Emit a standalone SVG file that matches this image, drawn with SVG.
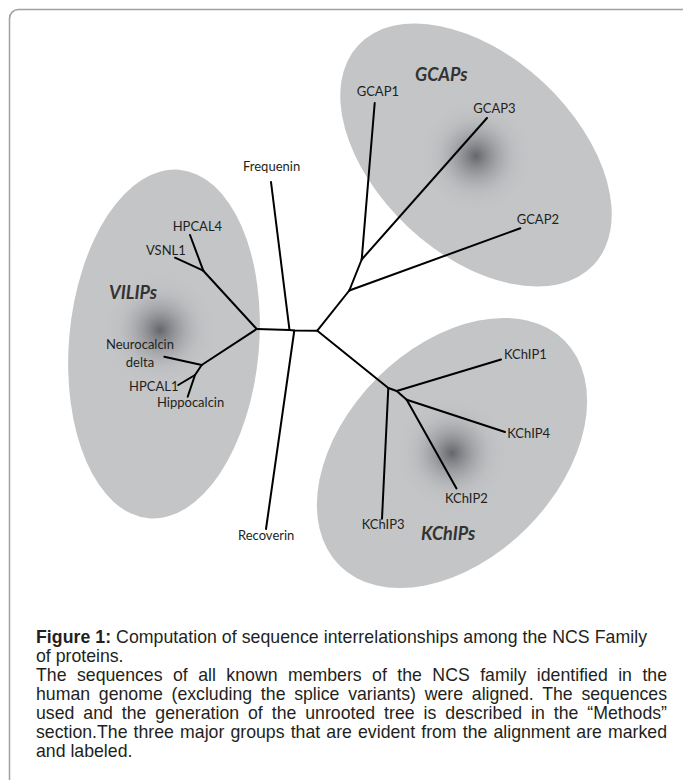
<svg xmlns="http://www.w3.org/2000/svg" width="683" height="780" viewBox="0 0 683 780">
<defs>
<radialGradient id="core" cx="0.5" cy="0.5" r="0.5">
<stop offset="0" stop-color="#65666b" stop-opacity="1"/>
<stop offset="0.3" stop-color="#8a8b8f" stop-opacity="0.7"/>
<stop offset="0.65" stop-color="#b0b1b4" stop-opacity="0.3"/>
<stop offset="1" stop-color="#c4c5c7" stop-opacity="0"/>
</radialGradient>
</defs>
<style>
.blob{fill:#c4c5c7}
.core{fill:url(#core)}
.lbl{font-family:Lato,"Liberation Sans",sans-serif;font-size:13px;fill:#231f20}
.grp{font-family:Lato,"Liberation Sans",sans-serif;font-size:18px;font-weight:bold;font-style:italic;fill:#333}
.edge{fill:none;stroke:#000;stroke-width:2;stroke-linejoin:round;stroke-linecap:round}
.cap{font-family:"Liberation Sans",Arial,sans-serif;font-size:17.7px;fill:#231f20}
</style>
<rect x="9.5" y="9.5" width="700" height="800" rx="9" fill="#fff" stroke="#a0a0a0" stroke-width="1.5"/>

<g id="group-vilips">
<ellipse class="blob" cx="164" cy="344" rx="95" ry="175" transform="rotate(5 164 344)"/>
<circle class="core" cx="160" cy="330" r="60"/>
<text class="grp" x="109" y="299">VILIPs</text>
</g>
<g id="group-gcaps">
<ellipse class="blob" cx="476" cy="155" rx="161" ry="99" transform="rotate(43 476 155)"/>
<circle class="core" cx="476" cy="156" r="60"/>
<text class="grp" x="415" y="81">GCAPs</text>
</g>
<g id="group-kchips">
<ellipse class="blob" cx="452" cy="453" rx="159" ry="106" transform="rotate(-45 452 453)"/>
<circle class="core" cx="452" cy="453" r="60"/>
<text class="grp" x="421" y="540">KChIPs</text>
</g>

<g id="connectors">
<polyline class="edge" points="256.7,329 289.5,330 294.3,330.5 317.3,330.7"/>
<line class="edge" x1="289.5" y1="330" x2="271" y2="182"/>
<line class="edge" x1="294.3" y1="330.5" x2="266" y2="529"/>
<line class="edge" x1="256.7" y1="329" x2="203.3" y2="270.7"/>
<line class="edge" x1="203.3" y1="270.7" x2="175" y2="257.7"/>
<line class="edge" x1="203.3" y1="270.7" x2="190" y2="235"/>
<line class="edge" x1="256.7" y1="329" x2="201.7" y2="365"/>
<line class="edge" x1="201.7" y1="365" x2="164.3" y2="356.7"/>
<line class="edge" x1="201.7" y1="365" x2="195" y2="375"/>
<line class="edge" x1="195" y1="375" x2="178.3" y2="385"/>
<line class="edge" x1="195" y1="375" x2="187.7" y2="396.7"/>
<line class="edge" x1="317.3" y1="330.7" x2="349.3" y2="290.5"/>
<line class="edge" x1="349.3" y1="290.5" x2="361.7" y2="259.5"/>
<line class="edge" x1="361.7" y1="259.5" x2="374.7" y2="103"/>
<line class="edge" x1="361.7" y1="259.5" x2="487" y2="118"/>
<line class="edge" x1="349.3" y1="290.5" x2="520.3" y2="228.3"/>
<line class="edge" x1="317.3" y1="330.7" x2="388.3" y2="388"/>
<line class="edge" x1="388.3" y1="388" x2="382" y2="518.7"/>
<line class="edge" x1="388.3" y1="388" x2="396.7" y2="391"/>
<line class="edge" x1="396.7" y1="391" x2="501" y2="359.5"/>
<line class="edge" x1="396.7" y1="391" x2="406.7" y2="399.7"/>
<line class="edge" x1="406.7" y1="399.7" x2="505" y2="432"/>
<line class="edge" x1="406.7" y1="399.7" x2="456.5" y2="488.5"/>
</g>

<g id="node-frequenin"><text class="lbl" x="243" y="171">Frequenin</text></g>
<g id="node-recoverin"><text class="lbl" x="238" y="540">Recoverin</text></g>
<g id="node-hpcal4"><text class="lbl" x="172.7" y="231">HPCAL4</text></g>
<g id="node-vsnl1"><text class="lbl" x="146" y="255">VSNL1</text></g>
<g id="node-neurocalcin"><text class="lbl" x="140" y="349" text-anchor="middle">Neurocalcin</text><text class="lbl" x="140" y="366.7" text-anchor="middle">delta</text></g>
<g id="node-hpcal1"><text class="lbl" x="129" y="391">HPCAL1</text></g>
<g id="node-hippocalcin"><text class="lbl" x="157" y="406.7">Hippocalcin</text></g>
<g id="node-gcap1"><text class="lbl" x="356.7" y="96">GCAP1</text></g>
<g id="node-gcap3"><text class="lbl" x="473.3" y="113.3">GCAP3</text></g>
<g id="node-gcap2"><text class="lbl" x="516.7" y="224.3">GCAP2</text></g>
<g id="node-kchip1"><text class="lbl" x="504" y="359.3">KChIP1</text></g>
<g id="node-kchip4"><text class="lbl" x="507.3" y="438.3">KChIP4</text></g>
<g id="node-kchip2"><text class="lbl" x="445" y="502.7">KChIP2</text></g>
<g id="node-kchip3"><text class="lbl" x="361.7" y="529.3">KChIP3</text></g>

<g id="caption">
<text class="cap" x="36" y="643" textLength="611"><tspan font-weight="bold">Figure 1:</tspan> Computation of sequence interrelationships among the NCS Family</text>
<text class="cap" x="36" y="662">of proteins.</text>
<text class="cap" x="36" y="681" word-spacing="5.5" textLength="631">The sequences of all known members of the NCS family identified in the</text>
<text class="cap" x="36" y="700" word-spacing="3.8" textLength="631">human genome (excluding the splice variants) were aligned. The sequences</text>
<text class="cap" x="36" y="719" word-spacing="4" textLength="631">used and the generation of the unrooted tree is described in the “Methods”</text>
<text class="cap" x="36" y="738" word-spacing="1.2" textLength="631">section.The three major groups that are evident from the alignment are marked</text>
<text class="cap" x="36" y="757">and labeled.</text>
</g>
</svg>
